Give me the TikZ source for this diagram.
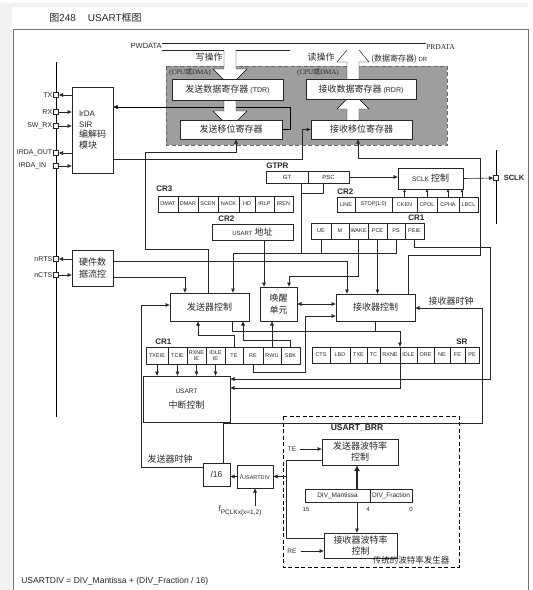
\documentclass[tikz,border=0pt]{standalone}
\usepackage{fontspec}
\setmainfont{Liberation Sans}
\newfontfamily\cjk{Noto Sans CJK SC}
\newfontfamily\serifrm{Liberation Serif}
\usetikzlibrary{arrows.meta,positioning}
\pgfdeclarelayer{background}
\pgfsetlayers{background,main}
\newcommand\fsz[2]{\fontsize{#1}{#2}\selectfont}

\begin{document}
\begin{tikzpicture}[x=1pt, y=-1pt, line width=0.6pt, color=black!85,
		block/.style={draw, fill=white, inner sep=0pt, outer sep=0pt, align=center, font=\cjk\fsz{9}{11}},
		bit/.style={draw, fill=white, inner sep=0pt, outer sep=0pt, minimum height=16pt, align=center, font=\fsz{5.5}{5.5}},
		pin/.style={draw, fill=white, minimum size=5pt, inner sep=0pt, outer sep=0pt},
		pinlbl/.style={font=\fsz{7}{8}, inner sep=1pt},
		reg/.style={font=\bfseries\fsz{8}{9}, inner sep=0pt},
		zhlbl/.style={font=\cjk\fsz{9}{11}, inner sep=0pt},
		txt/.style={inner sep=0pt},
		arr/.style={-{Latex[length=4.5pt,width=4pt]}},
		arrs/.style={-{Latex[length=3pt,width=3pt]}},
		arr2/.style={{Latex[length=4.5pt,width=4pt]}-{Latex[length=4.5pt,width=4pt]}},
		hollow/.style={draw, fill=white},
		dashbox/.style={dash pattern=on 4pt off 2.5pt, line width=0.9pt},
	]
	\useasboundingbox (0,0) rectangle (533,590);

	% title and bus labels
	\node[txt, anchor=west, font=\fsz{10}{12}] (title) at (49,18) {{\cjk 图}248\hspace{12pt}USART{\cjk 框图}};
	\node[txt, anchor=east, font=\fsz{7.5}{9}] (pwdata) at (162,46) {PWDATA};
	\node[txt, anchor=west, font=\serifrm\fsz{7.5}{9}] (prdata) at (426,47) {PRDATA};
	\node[zhlbl] (wrop) at (209,57) {写操作};
	\node[zhlbl] (rdop) at (321,57) {读操作};
	\node[txt, font=\serifrm\fsz{7}{8}] (cpua) at (190,72) {(CPU{\cjk 或}DMA)};
	\node[txt, font=\serifrm\fsz{7}{8}] (cpub) at (318,72) {(CPU{\cjk 或}DMA)};
	\node[txt, anchor=west, font=\cjk\fsz{8}{9}] (drlbl) at (371,59) {(数据寄存器) {\rmfamily\fsz{6}{7}DR}};

	% data registers
	\node[block, minimum width=111pt, minimum height=21pt] (tdr) at (227.5,89.5) {发送数据寄存器 {\rmfamily\fsz{7}{8}(TDR)}};
	\node[block, minimum width=110pt, minimum height=20pt] (rdr) at (361,89) {接收数据寄存器 {\rmfamily\fsz{7}{8}(RDR)}};
	\node[block, minimum width=102pt, minimum height=19pt] (tsr) at (231,129.5) {发送移位寄存器};
	\node[block, minimum width=101pt, minimum height=19pt] (rsr) at (361.5,129.5) {接收移位寄存器};

	% left side blocks and pins
	\node[block, minimum width=41pt, minimum height=86pt, align=left, font=\cjk\fsz{9}{10.5}] (irda) at (92.5,130) {{\rmfamily\fsz{8}{10}IrDA}\\{\rmfamily\fsz{8}{10}SIR}\\编解码\\模块};
	\node[block, minimum width=41pt, minimum height=36pt, font=\cjk\fsz{9}{12}] (flow) at (92.5,268) {硬件数\\据流控};
	\node[pin, label={[pinlbl]left:TX}] (ptx) at (56,95) {};
	\node[pin, label={[pinlbl]left:RX}] (prx) at (56,112) {};
	\node[pin, label={[pinlbl]left:SW\_RX}] (pswrx) at (56,126) {};
	\node[pin, label={[pinlbl]left:IRDA\_OUT}] (pirout) at (56,153) {};
	\node[pin, label={[pinlbl, label distance=6pt]left:IRDA\_IN}] (pirin) at (56,166) {};
	\node[pin, label={[pinlbl]left:nRTS}] (prts) at (56,259) {};
	\node[pin, label={[pinlbl]left:nCTS}] (pcts) at (56,275) {};

	% GTPR and SCLK
	\node[reg, anchor=west] (gtprlbl) at (266,166) {GTPR};
	\node[bit, minimum width=42pt, minimum height=12pt, font=\fsz{6}{7}] (gt) at (287,177) {GT};
	\node[bit, minimum width=41pt, minimum height=12pt, font=\fsz{6}{7}, right=0pt of gt] (psc) {PSC};
	\node[block, minimum width=65pt, minimum height=21pt] (sclk) at (430.5,178.5) {{\rmfamily\fsz{6.5}{8}SCLK} 控制};
	\node[pin, label={[reg, font=\bfseries\fsz{7.5}{9}, label distance=5pt]right:SCLK}] (psclk) at (496,178) {};

	% CR2 (clock bits)
	\node[reg, anchor=west] (cr2lbl) at (337,192) {CR2};
	\node[bit, minimum height=15pt, minimum width=18pt, anchor=west] (lin) at (337,204.5) {LINE};
	\node[bit, minimum height=15pt, minimum width=37pt, right=0pt of lin] (stop) {STOP[1:0]};
	\node[bit, minimum height=15pt, minimum width=25pt, right=0pt of stop] (cken) {CKEN};
	\node[bit, minimum height=15pt, minimum width=20pt, right=0pt of cken] (cpol) {CPOL};
	\node[bit, minimum height=15pt, minimum width=22pt, right=0pt of cpol] (cpha) {CPHA};
	\node[bit, minimum height=15pt, minimum width=19pt, right=0pt of cpha] (lbcl) {LBCL};

	% CR3
	\node[reg, anchor=west] (cr3lbl) at (156,189) {CR3};
	\node[bit, minimum width=20pt, anchor=west] (dmat) at (158,204) {DMAT};
	\node[bit, minimum width=20pt, right=0pt of dmat] (dmar) {DMAR};
	\node[bit, minimum width=20pt, right=0pt of dmar] (scen) {SCEN};
	\node[bit, minimum width=21pt, right=0pt of scen] (nack) {NACK};
	\node[bit, minimum width=16pt, right=0pt of nack] (hd) {HD};
	\node[bit, minimum width=19pt, right=0pt of hd] (irlp) {IRLP};
	\node[bit, minimum width=19pt, right=0pt of irlp] (iren) {IREN};

	% CR2 (address)
	\node[reg, anchor=west] (cr2albl) at (218,219) {CR2};
	\node[block, minimum width=81pt, minimum height=16pt] (addr) at (252.5,232) {{\rmfamily\fsz{6}{7}USART} 地址};

	% CR1 (upper)
	\node[reg, anchor=west] (cr1albl) at (408,218) {CR1};
	\node[bit, minimum width=20pt, anchor=west] (ue) at (311,231) {UE};
	\node[bit, minimum width=18pt, right=0pt of ue] (mb) {M};
	\node[bit, minimum width=19pt, right=0pt of mb] (wakeb) {WAKE};
	\node[bit, minimum width=19pt, right=0pt of wakeb] (pce) {PCE};
	\node[bit, minimum width=18pt, right=0pt of pce] (ps) {PS};
	\node[bit, minimum width=19pt, right=0pt of ps] (peie) {PEIE};

	% control blocks
	\node[block, minimum width=79pt, minimum height=28pt] (txctl) at (209.5,307) {发送器控制};
	\node[block, minimum width=37pt, minimum height=34pt, font=\cjk\fsz{9}{12}] (wake) at (278.5,304) {唤醒\\单元};
	\node[block, minimum width=79pt, minimum height=27pt] (rxctl) at (375.5,307.5) {接收器控制};
	\node[zhlbl] (rxclk) at (451,301) {接收器时钟};

	% CR1 (lower)
	\node[reg, anchor=west] (cr1blbl) at (155,342) {CR1};
	\node[bit, minimum height=17pt, minimum width=22pt, anchor=west] (txeie) at (146,355.5) {TXEIE};
	\node[bit, minimum height=17pt, minimum width=19pt, right=0pt of txeie] (tcie) {TCIE};
	\node[bit, minimum height=17pt, minimum width=19pt, right=0pt of tcie] (rxneie) {RXNE\\IE};
	\node[bit, minimum height=17pt, minimum width=19pt, right=0pt of rxneie] (idleie) {IDLE\\IE};
	\node[bit, minimum height=17pt, minimum width=18pt, right=0pt of idleie] (te) {TE};
	\node[bit, minimum height=17pt, minimum width=20pt, right=0pt of te] (re) {RE};
	\node[bit, minimum height=17pt, minimum width=18pt, right=0pt of re] (rwu) {RWU};
	\node[bit, minimum height=17pt, minimum width=19pt, right=0pt of rwu] (sbk) {SBK};

	% SR
	\node[reg, anchor=west] (srlbl) at (456,342) {SR};
	\node[bit, minimum width=18pt, anchor=west] (cts) at (312,355) {CTS};
	\node[bit, minimum width=20pt, right=0pt of cts] (lbd) {LBD};
	\node[bit, minimum width=17pt, right=0pt of lbd] (txe) {TXE};
	\node[bit, minimum width=13pt, right=0pt of txe] (tc) {TC};
	\node[bit, minimum width=20pt, right=0pt of tc] (rxne) {RXNE};
	\node[bit, minimum width=17pt, right=0pt of rxne] (idle) {IDLE};
	\node[bit, minimum width=17pt, right=0pt of idle] (ore) {ORE};
	\node[bit, minimum width=16pt, right=0pt of ore] (ne) {NE};
	\node[bit, minimum width=15pt, right=0pt of ne] (fe) {FE};
	\node[bit, minimum width=14pt, right=0pt of fe] (pe) {PE};

	% interrupt and clock dividers
	\node[block, minimum width=87pt, minimum height=46pt, font=\cjk\fsz{9}{15}] (intr) at (186.5,399) {{\rmfamily\fsz{6.5}{8}USART}\\中断控制};
	\node[zhlbl] (txclk) at (170,459) {发送器时钟};
	\node[block, minimum width=27pt, minimum height=23pt, font=\fsz{8.5}{10}] (div16) at (216.5,474.5) {/16};
	\node[block, minimum width=36pt, minimum height=23pt, font=\fsz{5.5}{7}] (usartdiv) at (255,476.5) {{\fsz{7}{8}/}USARTDIV};
	\node[txt, font=\fsz{8}{9}] (fpclk) at (240,511) {f\raisebox{-2.5pt}{\fsz{6.5}{8}PCLKx(x=1,2)}};

	% baud rate generator
	\node[reg, font=\bfseries\fsz{8.5}{10}] (brrlbl) at (357,428) {USART\_BRR};
	\node[block, minimum width=76pt, minimum height=26pt] (txbaud) at (360,452) {发送器波特率\\控制};
	\node[bit, minimum width=65pt, minimum height=13pt, font=\fsz{6.5}{8}] (mant) at (337.5,495.5) {DIV\_Mantissa};
	\node[bit, minimum width=42pt, minimum height=13pt, font=\fsz{6.5}{8}, right=0pt of mant] (frac) {DIV\_Fraction};
	\node[block, minimum width=73pt, minimum height=25pt] (rxbaud) at (360.5,545.5) {接收器波特率\\控制};
	\node[txt, font=\fsz{6}{7}] (b15) at (306,509) {15};
	\node[txt, font=\fsz{6}{7}] (b4) at (368,509) {4};
	\node[txt, font=\fsz{6}{7}] (b0) at (411,509) {0};
	\node[txt, font=\fsz{6.5}{8}] (brrte) at (292,449) {TE};
	\node[txt, font=\fsz{6.5}{8}] (brrre) at (292,551) {RE};
	\node[txt, font=\cjk\fsz{8.5}{10}] (legacy) at (411,560.5) {传统的波特率发生器};
	\node[txt, anchor=west, font=\fsz{8.5}{10}] (formula) at (21,581) {USARTDIV = DIV\_Mantissa + (DIV\_Fraction / 16)};

	% data bus
	\draw (pwdata.east |- 0,43) -- (prdata.west |- 0,43);
	\draw (pwdata.east |- 0,50) -- (224,50) (236,50) -- (290,50);

	% pins
	\draw[arr] (ptx -| irda.west) -- (ptx);
	\draw[arr] (prx) -- (prx -| irda.west);
	\draw[arr] (pswrx) -- (pswrx -| irda.west);
	\draw[arr] (pirout -| irda.west) -- (pirout);
	\draw[arr] (pirin) -- (pirin -| irda.west);
	\draw[arr] (prts -| flow.west) -- (prts);
	\draw[arr] (pcts) -- (pcts -| flow.west);

	% shift registers
	\draw[arr] (irda.east |- 0,159) -| (302,129.5) -- (rsr.west);
	\draw[arr] (txctl.north -| 208,0) |- (145,249) |- (236,152) -- (tsr.south -| 236,0);
	\draw[arr] (rxctl.north -| 408,0) |- (480,255) |- (358,158) -- (rsr.south -| 358,0);

	% GTPR, CR1 to transmitter control
	\draw[arr] (ps.south) |- (233,253) -- (txctl.north -| 233,0);
	\draw (gt.south -| 301,0) -- (301,253);
	\draw (psc.south -| 323,0) |- (301,193);
	\draw (ue.south) -- (ue.south |- 0,253);
	\draw[arr] (flow.east |- 0,261) -| (rxctl.north -| 347,0);
	\draw[arr] (flow.east |- 0,277) -| (txctl.north -| 185,0);
	\draw[arr] (wakeb.south) |- (289,276) -- (wake.north -| 289,0);
	\draw[arr] (addr.south -| 264,0) -- (wake.north -| 264,0);
	\draw[arr] (pce.south) -- (pce.south |- rxctl.north);
	\draw[arr2] (wake.east) -- (wake.east -| rxctl.west);

	% CR1 to control blocks
	\draw[arr] (re.south) |- (305,372) |- (rxctl.west |- 0,316);
	\draw[arr] (te.north) |- (198,335) -- (txctl.south -| 198,0);
	\draw[arr] (sbk.north) |- (243,340) -- (txctl.south -| 243,0);
	\draw[arr] (rwu.north) -- (rwu.north |- wake.south);
	\draw[arr] (txctl.south -| 232,0) |- (rxne.north east |- 0,331) -- (rxne.north east);
	\draw (rxctl.south) -- (rxctl.south |- 0,331);

	% interrupts
	\draw[arr] (txeie.south) -- (txeie.south |- intr.north);
	\draw[arr] (tcie.south) -- (tcie.south |- intr.north);
	\draw[arr] (rxneie.south) -- (rxneie.south |- intr.north);
	\draw[arr] (idleie.south) -- (idleie.south |- intr.north);
	\draw[arr] (peie.south) |- (490,247) |- (intr.east |- 0,379);
	\draw[arr] (rxne.south east) |- (intr.east |- 0,388);

	% clocks
	\draw[arr] (div16.north -| 223,0) |- (482,423) |- (rxctl.east |- 0,308);
	\draw[arr] (div16.west |- 0,467) -| (141,305) -- (txctl.west |- 0,305);
	\draw[arr] (usartdiv.west) -- (usartdiv.west -| div16.east);
	\draw (txbaud.west |- 0,460) -| (286,538) -- (rxbaud.west |- 0,538);
	\draw[arr] (286,476.5) -- (usartdiv.east);
	\draw[arr] (usartdiv.south |- fpclk.north) -- (usartdiv.south);
	\draw[arr] ([xshift=4pt]brrte.east) -- (txbaud.west |- brrte.east);
	\draw[arr] ([xshift=4pt]brrre.east) -- (rxbaud.west |- brrre.east);
	\draw[-{Latex[length=6pt,width=6pt]}, line width=1.5pt] (mant.north -| 357,0) -- (txbaud.south -| 357,0);
	\draw[arr] (mant.south -| 357,0) -- (rxbaud.north -| 357,0);

	% SCLK
	\draw[arr] (psc.east) -- (psc.east -| sclk.west);
	\draw[arr] (sclk.east) -- (psclk);
	\draw[arrs] (cken.north) -- (cken.north |- sclk.south);
	\draw[arrs] (cpol.north) -- (cpol.north |- sclk.south);
	\draw[arrs] (cpha.north) -- (cpha.north |- sclk.south);
	\draw[arrs] ([xshift=3pt]lbcl.north west) -- ([xshift=3pt]lbcl.north west |- sclk.south);

	\begin{pgfonlayer}{background}
		\fill[black!5] (0,3) rectangle (528,7);
		\fill[black!5] (0,7) rectangle (12,590);
		\draw[black!55, line width=0.8pt] (13,590) -- (13,29) -- (528,29) -- (528,590);
		\filldraw[fill=black!38, draw=black!60, dashbox] (166,66) rectangle (447,145);
		\draw[dashbox, black] (283,416) rectangle (459,567);
		\draw[arr] (tsr.east) -- ++(8,0) |- (irda.east |- 0,107);
		\path[hollow] (224,50) -- (224,69) -- (213,69) -- (230,86) -- (247,69) -- (236,69) -- (236,50);
		\path[hollow] (224,100) -- (224,111) -- (213,111) -- (230,128) -- (247,111) -- (236,111) -- (236,100);
		\fill[white] (347,79) -- (347,62) -- (337,62) -- (347,50) -- (359,50) -- (369,62) -- (359,62) -- (359,79) -- cycle;
		\draw (347,79) -- (347,62) -- (337,62) -- (347,50) (359,50) -- (369,62) -- (359,62) -- (359,79);
		\path[hollow] (347,120) -- (347,109) -- (337,109) -- (353,93) -- (369,109) -- (359,109) -- (359,120);
		\draw (ptx |- 0,62) -- (ptx |- 0,417);
		\draw (psclk |- 0,150) -- (psclk |- 0,224);
	\end{pgfonlayer}
\end{tikzpicture}
\end{document}
